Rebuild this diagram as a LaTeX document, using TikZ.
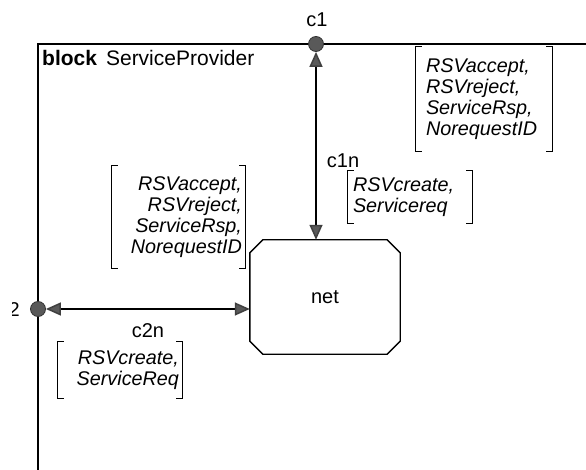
\documentclass[tikz,border=0pt]{standalone}
\usepackage{fontspec}
\setmainfont{Liberation Sans}
\usetikzlibrary{arrows.meta}
\begin{document}
\begin{tikzpicture}[x=1pt,y=-1pt,
  frame/.style={line width=1.8pt},
  gate/.style={circle,fill=black!65,draw=black!80,line width=0.8pt,inner sep=0pt,minimum size=15pt},
  sig/.style={font=\fontsize{19.8}{21}\selectfont\itshape, inner ysep=0pt},
  lbl/.style={font=\fontsize{20}{21}\selectfont, inner sep=0pt},
  ttl/.style={font=\fontsize{21}{23}\selectfont, inner sep=0pt},
  conn/.style={line width=1.5pt, draw=black,
    arrows={Triangle[length=15pt,width=13pt,fill=black!65,color=black!75]-Triangle[length=15pt,width=13pt,fill=black!65,color=black!75]}},
  brk/.style={line width=1.2pt}]
\useasboundingbox (0,0) rectangle (586,470);
% frame
\draw[frame] (586,44) -- (38,44) -- (38,470);
\node[ttl, anchor=west] (title) at (42,58) {\textbf{block}\hspace{9pt}ServiceProvider};
% process
\node[lbl, minimum width=150pt, minimum height=114pt] (net) at (325,297) {net};
\draw[line width=1.4pt] ([xshift=13pt]net.north west) -- ([xshift=-13pt]net.north east)
  -- ([yshift=-13pt]net.north east) -- ([yshift=13pt]net.south east)
  -- ([xshift=-13pt]net.south east) -- ([xshift=13pt]net.south west)
  -- ([yshift=13pt]net.south west) -- ([yshift=-13pt]net.north west) -- cycle;
% gates
\node[gate] (g1) at (316,44) {};
\node[gate] (g2) at (38,309) {};
\node[lbl] (c1) at (317,20) {c1};
\begin{scope}
  \clip (12,290) rectangle (30,330);
  \node[lbl, anchor=east] (c2) at (20,310) {c2};
\end{scope}
% connectors
\draw[conn] (g1) -- (g1 |- net.north);
\draw[conn] (g2) -- (g2 -| net.west);
\node[lbl] (c1n) at (343,161) {c1n};
\node[lbl] (c2n) at (148,331) {c2n};
% signal lists
\node[sig, align=left, text width=116pt, inner xsep=10pt, minimum height=104pt] (b1) at (484,99)
  {RSVaccept,\\RSVreject,\\ServiceRsp,\\NorequestID};
\node[sig, align=left, text width=114pt, inner xsep=5pt, minimum height=53pt] (b2) at (410,197)
  {RSVcreate,\\Servicereq};
\node[sig, align=right, text width=127pt, inner xsep=3pt, minimum height=102pt] (b3) at (178.5,217)
  {RSVaccept,\\RSVreject,\\ServiceRsp,\\NorequestID};
\node[sig, align=right, text width=118pt, inner xsep=3pt, minimum height=56pt] (b4) at (120,370)
  {RSVcreate,\\ServiceReq};
\foreach \b in {b1,b2,b3,b4}{
  \draw[brk] ([xshift=6pt]\b.north west) -- (\b.north west) -- (\b.south west) -- ([xshift=6pt]\b.south west);
  \draw[brk] ([xshift=-6pt]\b.north east) -- (\b.north east) -- (\b.south east) -- ([xshift=-6pt]\b.south east);
}
\end{tikzpicture}
\end{document}
